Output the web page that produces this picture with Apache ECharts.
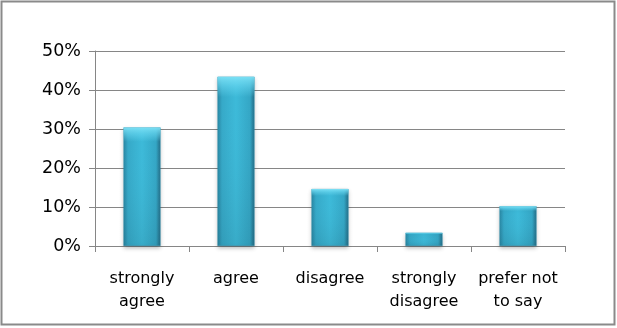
<!DOCTYPE html>
<html><head><meta charset="utf-8">
<script src="https://cdn.jsdelivr.net/npm/echarts@6/dist/echarts.min.js"></script>
<style>html,body{margin:0;padding:0;background:#fff}#c{width:617px;height:328px}</style>
</head><body><div id="c"></div>
<script>
const categories = ['strongly\nagree', 'agree', 'disagree', 'strongly\ndisagree', 'prefer not\nto say'];
const values = [30.4, 43.4, 14.6, 3.4, 10.2];
const yTicks = [0, 10, 20, 30, 40, 50];

const chart = echarts.init(document.getElementById('c'), null, {renderer: 'canvas'});
const font = '"DejaVu Sans", sans-serif';
chart.setOption({
  animation: false,
  backgroundColor: '#ffffff',
  graphic: [{
    type: 'rect', shape: {x: 1.5, y: 1.5, width: 613, height: 323},
    style: {fill: 'none', stroke: '#8a8a8a', lineWidth: 2}, silent: true
  }],
  grid: {left: 95, right: 52, top: 51, bottom: 82},
  xAxis: {
    type: 'category', data: categories,
    axisLine: {lineStyle: {color: '#868686', width: 1}},
    axisTick: {show: true, length: 6, lineStyle: {color: '#868686'}},
    axisLabel: {color: '#000', fontFamily: font, fontSize: 16, lineHeight: 23, margin: 21,
      interval: 0, hideOverlap: false}
  },
  yAxis: {
    type: 'value', min: yTicks[0], max: yTicks[yTicks.length - 1], interval: 10,
    axisLine: {show: true, lineStyle: {color: '#868686', width: 1}},
    axisTick: {show: true, length: 6, lineStyle: {color: '#868686'}},
    splitLine: {lineStyle: {color: '#868686', width: 1}},
    axisLabel: {color: '#000', fontFamily: font, fontSize: 17.5, margin: 14,
      formatter: v => v + '%'}
  },
  series: [{
    type: 'bar', data: values, barWidth: 37,
    itemStyle: {
      color: new echarts.graphic.LinearGradient(0, 0, 1, 0, [
        {offset: 0, color: '#2a89a6'},
        {offset: 0.12, color: '#36a9c8'},
        {offset: 0.5, color: '#3dbad9'},
        {offset: 0.88, color: '#34a6c5'},
        {offset: 1, color: '#246f88'}
      ]),
      borderColor: '#2a8fae', borderWidth: 0.5,
      shadowColor: 'rgba(0,0,0,0.25)', shadowBlur: 4, shadowOffsetY: 2
    }
  }, {
    type: 'bar', data: values, barWidth: 37, barGap: '-100%', silent: true,
    itemStyle: {
      color: new echarts.graphic.LinearGradient(0, 0, 0, 1, [
        {offset: 0, color: 'rgba(130,230,250,0.9)'},
        {offset: 0.06, color: 'rgba(110,220,245,0.5)'},
        {offset: 0.12, color: 'rgba(110,220,245,0)'},
        {offset: 1, color: 'rgba(0,0,0,0.08)'}
      ])
    }
  }]
});
</script></body></html>
